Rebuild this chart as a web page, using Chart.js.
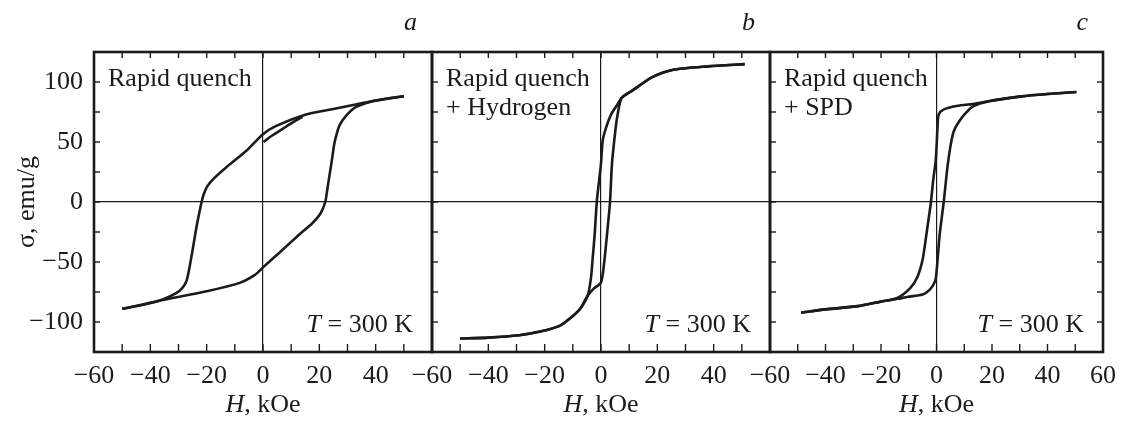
<!DOCTYPE html>
<html>
<head>
<meta charset="utf-8">
<script src="https://cdn.jsdelivr.net/npm/chart.js@4.4.0/dist/chart.umd.min.js"></script>
<style>
  html, body { margin: 0; padding: 0; background: #fff; }
  #wrap { position: relative; width: 1125px; height: 421px; }
  canvas { position: absolute; left: 0; top: 0; }
</style>
</head>
<body>
<div id="wrap">
  <canvas id="pa" width="1125" height="421"></canvas>
  <canvas id="pb" width="1125" height="421"></canvas>
  <canvas id="pc" width="1125" height="421"></canvas>
</div>
<script>
// a: rapid quench
const aDownH = [50, 40, 32.9, 25, 15.3, 4.7, 0, -5.9, -13, -17.5, -19.8, -21.1, -21.8, -22.7, -23.6, -24.5, -25.4, -26.3, -27.2, -28.6, -30.7, -35.4, -42, -50];
const aDownS = [88.2, 84.5, 81.3, 77.5, 73, 63.4, 56.5, 42.7, 29, 19.5, 13, 6, 0, -10, -20.7, -33, -45.5, -57, -66, -71.5, -75.7, -81, -85.5, -89];
const aUpH = [-50, -42, -34.2, -20, -8.3, -3, 0, 5.6, 12.7, 17.4, 20.4, 22.1, 22.8, 23.5, 24.4, 25.3, 26.2, 27.2, 29.4, 32.9, 38.8, 45, 50];
const aUpS = [-89, -85, -81, -74.4, -67.4, -61, -54.5, -42.7, -27.5, -17.9, -9.6, 0, 10, 20.7, 34, 48.3, 57, 64, 71.6, 79, 84, 86.5, 88.2];
const aVirH = [0.2, 3, 7, 11, 14];
const aVirS = [50, 55, 61, 67, 71];

// b: rapid quench + hydrogen
const bDownH = [51, 38, 25.3, 18.2, 11.2, 7.4, 5.5, 3.6, 1.8, 0.6, 0, -0.8, -1.5, -2.3, -3, -3.5, -4.7, -7.4, -10, -14.5, -21.6, -29, -40, -50];
const bDownS = [114.9, 113, 110, 104, 93, 87, 80, 73, 62, 51, 32, 15.4, 0, -28.7, -48, -62, -78, -89, -95, -103, -108, -111, -113, -113.8];
const bUpH = [-50, -40, -29, -21.6, -14.5, -10, -7.4, -4.7, -2.5, 0, 1.1, 2.3, 3.2, 3.9, 5.1, 5.9, 7.4, 11.2, 18.2, 25.3, 38, 51];
const bUpS = [-113.8, -113, -111, -108, -103, -95, -89, -78, -72, -67, -51, -23, 0, 32, 59.5, 73, 87, 93, 104, 110, 113, 114.9];

// c: rapid quench + SPD
const cDownH = [50.4, 40, 30.6, 18.8, 14.2, 7.2, 2.5, 0.8, 0.4, 0.1, -0.3, -1.2, -2, -3.7, -5, -6.8, -9.4, -14.1, -20, -28.2, -40, -48.8];
const cDownS = [91.7, 90, 88, 84, 82, 80, 77, 73, 64, 50, 34, 18, 0, -28, -48, -62, -71.6, -80, -83, -86.8, -89.5, -92.3];
const cUpH = [-48.8, -40, -28.2, -20, -14.1, -10.3, -5, -2.4, -0.5, 0.1, 0.5, 1.2, 2.6, 4, 5.3, 6.4, 8.4, 10.5, 13, 18.8, 30.6, 40, 50.4];
const cUpS = [-92.3, -89.5, -86.8, -83, -80.7, -79, -77, -73, -66, -56, -45, -26, 0, 30, 50, 60, 68, 74, 79.5, 84, 88, 90, 91.7];

const xLabels = [-60, -40, -20, 0, 20, 40, 60];
const yLabels = [-100, -50, 0, 50, 100];
const xTicks = [-50, -40, -30, -20, -10, 0, 10, 20, 30, 40, 50];
const yTicks = [-100, -75, -50, -25, 0, 25, 50, 75, 100];

const serif = '"Liberation Serif", "Times New Roman", serif';
const ink = '#1b1b1b';
const fs = 26;
const fmt = v => v < 0 ? '\u2212' + Math.abs(v) : String(v);

function line(ctx, x1, y1, x2, y2) {
  ctx.beginPath(); ctx.moveTo(x1, y1); ctx.lineTo(x2, y2); ctx.stroke();
}

// italic part followed by regular part
function mixed(ctx, it, rest, x, y, align) {
  ctx.font = 'italic ' + fs + 'px ' + serif;
  const w1 = ctx.measureText(it).width;
  ctx.font = fs + 'px ' + serif;
  const w2 = ctx.measureText(rest).width;
  let x0 = x;
  if (align === 'right') x0 = x - w1 - w2;
  if (align === 'center') x0 = x - (w1 + w2) / 2;
  ctx.textAlign = 'left';
  ctx.font = 'italic ' + fs + 'px ' + serif;
  ctx.fillText(it, x0, y);
  ctx.font = fs + 'px ' + serif;
  ctx.fillText(rest, x0 + w1, y);
}

const framePlugin = {
  id: 'frame',
  afterDraw(chart, args, o) {
    const { ctx, chartArea: a, scales: { x, y } } = chart;
    ctx.save();
    ctx.strokeStyle = ink;
    ctx.lineWidth = 1.4;
    xTicks.forEach(v => {
      const px = x.getPixelForValue(v);
      line(ctx, px, a.top, px, a.top + 6);
      line(ctx, px, a.bottom, px, a.bottom - 8);
    });
    yTicks.forEach(v => {
      const py = y.getPixelForValue(v);
      line(ctx, a.left, py, a.left + 6, py);
      if (o.rightTicks) line(ctx, a.right, py, a.right - 6, py);
    });
    ctx.lineWidth = 2.6;
    ctx.strokeRect(a.left, a.top, a.right - a.left, a.bottom - a.top);

    ctx.fillStyle = ink;
    ctx.textBaseline = 'alphabetic';
    ctx.font = fs + 'px ' + serif;
    ctx.textAlign = 'left';
    o.label.forEach((t, i) => ctx.fillText(t, a.left + 14, 86 + i * 29));
    mixed(ctx, 'T', ' = 300 K', a.right - 19, 332, 'right');
    mixed(ctx, 'H', ', kOe', x.getPixelForValue(0), 412, 'center');
    ctx.font = 'italic ' + fs + 'px ' + serif;
    ctx.textAlign = 'right';
    ctx.fillText(o.letter, a.right - 15, 30);

    if (o.yTitle) {
      ctx.translate(27, (a.top + a.bottom) / 2);
      ctx.rotate(-Math.PI / 2);
      ctx.font = fs + 'px ' + serif;
      ctx.textAlign = 'center';
      ctx.textBaseline = 'middle';
      ctx.fillText('\u03c3, emu/g', 0, 0);
    }
    ctx.restore();
  }
};

function panel(id, branches, cfg) {
  const zeroGrid = c => (c.tick && c.tick.value === 0) ? ink : 'rgba(0,0,0,0)';
  return new Chart(document.getElementById(id), {
    type: 'scatter',
    data: {
      datasets: branches.map(([hs, ss]) => ({
        data: hs.map((h, i) => ({ x: h, y: ss[i] })),
        showLine: true,
        borderColor: ink,
        borderWidth: 2.6,
        pointRadius: 0,
        tension: 0.25,
        fill: false
      }))
    },
    options: {
      responsive: false,
      animation: false,
      events: [],
      layout: { padding: { left: cfg.left - cfg.yw, right: 1125 - cfg.right, top: 52, bottom: 0 } },
      plugins: {
        legend: { display: false },
        tooltip: { enabled: false },
        frame: cfg
      },
      scales: {
        x: {
          type: 'linear', min: -60, max: 60,
          afterBuildTicks: s => { s.ticks = xLabels.map(v => ({ value: v })); },
          ticks: {
            color: ink, padding: 9, maxRotation: 0, autoSkip: false,
            font: { family: serif, size: fs },
            callback: v => (v === 60 && !cfg.show60) ? '' : fmt(v)
          },
          grid: { drawTicks: false, color: zeroGrid, lineWidth: 1.2 },
          border: { display: false },
          afterFit: s => { s.height = 69; }
        },
        y: {
          type: 'linear', min: -125, max: 125,
          afterBuildTicks: s => { s.ticks = yLabels.map(v => ({ value: v })); },
          ticks: {
            display: cfg.yw > 0, color: ink, padding: 11,
            font: { family: serif, size: fs },
            callback: v => fmt(v)
          },
          grid: { drawTicks: false, color: zeroGrid, lineWidth: 1.2 },
          border: { display: false },
          afterFit: s => { s.width = cfg.yw; }
        }
      }
    },
    plugins: [framePlugin]
  });
}

panel('pa', [[aDownH, aDownS], [aUpH, aUpS], [aVirH, aVirS]],
  { left: 94, right: 432, yw: 94, label: ['Rapid quench'], letter: 'a', yTitle: true, show60: false });
panel('pb', [[bDownH, bDownS], [bUpH, bUpS]],
  { left: 432, right: 770, yw: 0, label: ['Rapid quench', '+ Hydrogen'], letter: 'b', show60: false });
panel('pc', [[cDownH, cDownS], [cUpH, cUpS]],
  { left: 770, right: 1108, yw: 0, label: ['Rapid quench', '+ SPD'], letter: 'c', show60: true, rightTicks: true });
</script>
</body>
</html>
